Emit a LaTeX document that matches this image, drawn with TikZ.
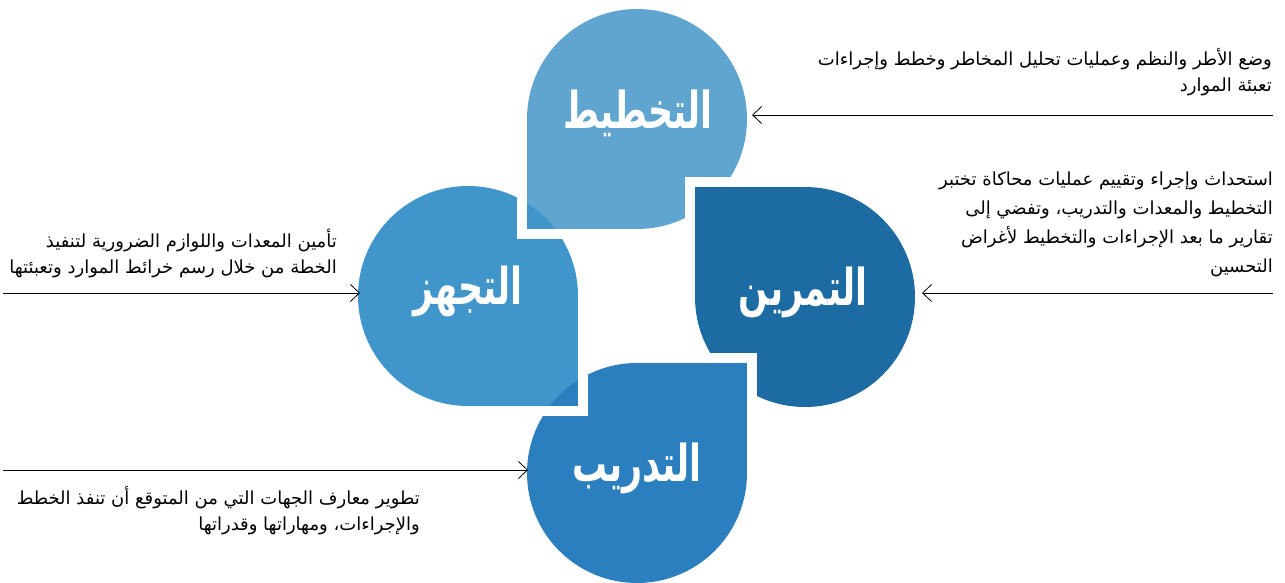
\documentclass[tikz,border=0pt]{standalone}
\usepackage{fontspec}
\usepackage{tikz}
\usetikzlibrary{arrows.meta}
\TeXXeTstate=1
\newfontfamily\arabicfont[Script=Arabic]{DejaVu Sans}
\definecolor{planblue}{RGB}{96,165,207}
\definecolor{equipblue}{RGB}{64,150,203}
\definecolor{drillblue}{RGB}{29,107,163}
\definecolor{trainblue}{RGB}{43,127,191}
\def\dropword#1{\scalebox{0.87}[1.27]{\beginR #1\endR}}
\tikzset{
	dropname/.style={text=white, font=\arabicfont\bfseries\fontsize{40}{40}\selectfont},
	infotext/.style={align=right, inner sep=0pt, font=\arabicfont\fontsize{18}{26}\selectfont},
	pointer/.style={-{Straight Barb[length=9pt,width=17pt]}, line width=0.8pt},
	gap/.style={draw=white, line width=10pt}
}

\begin{document}
\begin{tikzpicture}[x=1pt,y=1pt]
			%%%%% START %%%%%
			\useasboundingbox (0,0) rectangle (1285,583);
			
			\fill[planblue] (747,464) arc (0:180:110) -- (527,354) -- (637,354) arc (270:360:110) -- cycle;
			\fill[equipblue] (468,397) arc (90:270:110) -- (578,177) -- (578,287) arc (0:90:110) -- cycle;
			\fill[drillblue] (695,286) arc (180:450:110) -- (695,396) -- cycle;
			\fill[trainblue] (637,220) arc (90:360:110) -- (747,220) -- cycle;
			
			\draw[gap] (522,464) -- (522,349) -- (637,349);
			\draw[gap] (468,172) -- (583,172) -- (583,287);
			\draw[gap] (805,401) -- (690,401) -- (690,286);
			\draw[gap] (637,225) -- (752,225) -- (752,110);
			
			\node[dropname] (plan) at (638,470) {\dropword{التخطيط}};
			\node[dropname] (equip) at (468,292) {\dropword{التجهز}};
			\node[dropname] (drill) at (803,291) {\dropword{التمرين}};
			\node[dropname] (train) at (637,115) {\dropword{التدريب}};
			
			\node[infotext, anchor=north east] (plan-text) at (1272,535) {\beginR وضع الأطر والنظم وعمليات تحليل المخاطر وخطط وإجراءات\endR\\\beginR تعبئة الموارد\endR};
			\node[infotext, anchor=north east, font=\arabicfont\fontsize{18}{29}\selectfont] (drill-text) at (1273,411) {\beginR استحداث وإجراء وتقييم عمليات محاكاة تختبر\endR\\\beginR التخطيط والمعدات والتدريب، وتفضي إلى\endR\\\beginR تقارير ما بعد الإجراءات والتخطيط لأغراض\endR\\\beginR التحسين\endR};
			\node[infotext, anchor=north east] (equip-text) at (337,354) {\beginR تأمين المعدات واللوازم الضرورية لتنفيذ\endR\\\beginR الخطة من خلال رسم خرائط الموارد وتعبئتها\endR};
			\node[infotext, anchor=north east] (train-text) at (420,97) {\beginR تطوير معارف الجهات التي من المتوقع أن تنفذ الخطط\endR\\\beginR والإجراءات، ومهاراتها وقدراتها\endR};
			
			\coordinate (plan-end) at (1273,468);
			\coordinate (plan-tip) at (752,468);
			\coordinate (drill-end) at (1273,290);
			\coordinate (drill-tip) at (922,290);
			\coordinate (equip-end) at (3,290);
			\coordinate (equip-tip) at (360,290);
			\coordinate (train-end) at (3,113);
			\coordinate (train-tip) at (528,113);
			
			\draw[pointer] (plan-end) -- (plan-tip);
			\draw[pointer] (drill-end) -- (drill-tip);
			\draw[pointer] (equip-end) -- (equip-tip);
			\draw[pointer] (train-end) -- (train-tip);
			
			%%%%% END %%%%%
\end{tikzpicture}
\end{document}
